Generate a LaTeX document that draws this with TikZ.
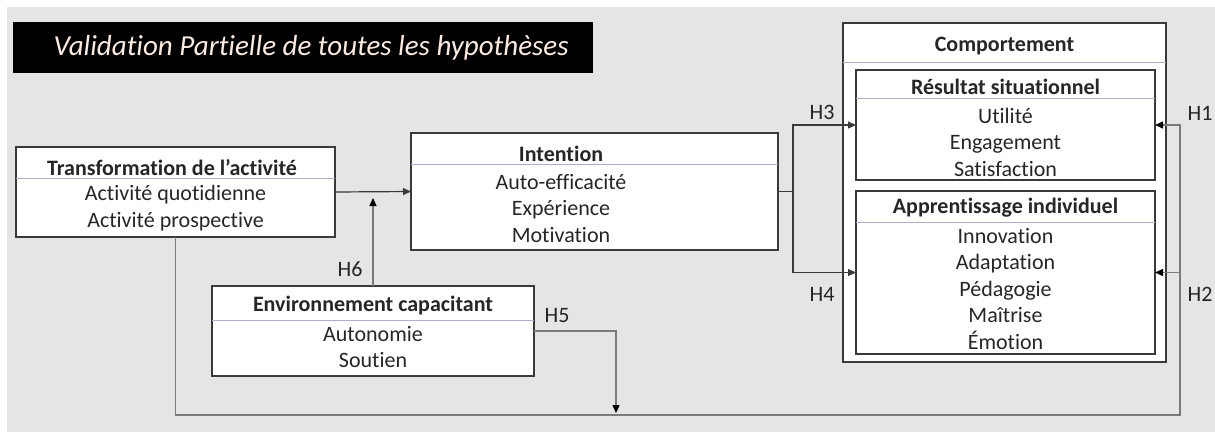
\documentclass[tikz,border=0pt]{standalone}
\usepackage{fontspec}
\setmainfont{Carlito}[Ligatures={TeX,NoCommon}]
\usepackage{tikz}
\usetikzlibrary{arrows.meta}

\definecolor{bggray}{HTML}{E6E4E5}
\definecolor{ink}{HTML}{262626}
\definecolor{edge}{HTML}{3A3A3A}
\definecolor{sepline}{HTML}{B8A9CC}
\definecolor{fbgray}{HTML}{7A7A7A}
\definecolor{cream}{HTML}{FBEBE0}

\begin{document}
\begin{tikzpicture}[x=1pt,y=-1pt,
  box/.style={draw=edge,line width=1.5pt,fill=white,anchor=north west,inner sep=0pt,outer sep=0pt},
  sep/.style={draw=sepline,line width=1pt},
  head/.style={text=ink,font=\bfseries\fontsize{22}{26}\selectfont,inner sep=0pt},
  items/.style={text=ink,font=\fontsize{22}{26.5}\selectfont,align=center,inner sep=0pt},
  hyp/.style={text=ink,font=\fontsize{22}{24}\selectfont,inner sep=0pt},
  link/.style={draw=edge,line width=1.2pt,-{Triangle[length=8pt,width=7pt]}},
  fback/.style={draw=fbgray,line width=1.4pt,-{Triangle[length=8pt,width=7pt,color=black,fill=black]}},
]

\useasboundingbox (0,0) rectangle (1215,432);

% Background
\fill[bggray] (7,7) rectangle (1215,432);

% Title bar
\node[fill=black,anchor=north west,minimum width=580pt,minimum height=51pt,inner sep=0pt] (bar) at (13,22) {};
\node[text=cream,font=\itshape\fontsize{29}{34}\selectfont,inner sep=0pt] (title) at ([xshift=8pt]bar.center) {Validation Partielle de toutes les hypothèses};

% Transformation de l'activite
\node[box,minimum width=319pt,minimum height=90pt] (trans) at (16,147) {};
\draw[sep] ([yshift=-31pt]trans.north west) -- ([yshift=-31pt]trans.north east);
\node[head] (transhead) at (172,168) {Transformation de l'activité};
\node[items] (transitems) at (175.5,208) {Activité quotidienne\\Activité prospective};

% Intention
\node[box,minimum width=367pt,minimum height=117pt] (inten) at (411,133) {};
\draw[sep] ([yshift=-31pt]inten.north west) -- ([yshift=-31pt]inten.north east);
\node[head] (intenhead) at (561,154) {Intention};
\node[items] (intenitems) at (561,208.5) {Auto-efficacité\\Expérience\\Motivation};

% Environnement capacitant
\node[box,minimum width=322pt,minimum height=90pt] (env) at (212,286) {};
\draw[sep] ([yshift=-34pt]env.north west) -- ([yshift=-34pt]env.north east);
\node[head] (envhead) at (373,306) {Environnement capacitant};
\node[items] (envitems) at (373,347) {Autonomie\\Soutien};

% Comportement
\node[box,minimum width=323pt,minimum height=339pt] (comp) at (843,23) {};
\draw[sep] ([yshift=-39pt]comp.north west) -- ([yshift=-39pt]comp.north east);
\node[head] (comphead) at (1004.5,46) {Comportement};

% Resultat situationnel
\node[box,minimum width=299pt,minimum height=110pt] (res) at (856,70) {};
\draw[sep] ([yshift=-28pt]res.north west) -- ([yshift=-28pt]res.north east);
\node[head] (reshead) at (1005.5,87) {Résultat situationnel};
\node[items] (resitems) at (1005.5,142) {Utilité\\Engagement\\Satisfaction};

% Apprentissage individuel
\node[box,minimum width=299pt,minimum height=163pt] (app) at (856,191) {};
\draw[sep] ([yshift=-31pt]app.north west) -- ([yshift=-31pt]app.north east);
\node[head] (apphead) at (1005.5,208) {Apprentissage individuel};
\node[items] (appitems) at (1005.5,289) {Innovation\\Adaptation\\Pédagogie\\Maîtrise\\Émotion};

% Links
\coordinate (split) at (793,191.5);
\coordinate (corner) at (1180,415);
\coordinate (h5end) at (616,413);

\draw[link] (trans.east) -- (inten.west);
\draw[draw=edge,line width=1.2pt] (inten.east) -- (split);
\draw[link] (split) |- (res.west);
\draw[link] (split) |- (app.west);

\draw[fback] (env.north) -- ([yshift=-6pt]env.north |- trans.east);
\draw[fback] (env.east) -| (h5end);
\draw[fback] (trans.south) |- (corner) |- (res.east);
\draw[fback] (corner |- app.east) -- (app.east);

% Hypotheses
\node[hyp] (h1) at (1200,113) {H1};
\node[hyp] (h2) at (1200,294) {H2};
\node[hyp] (h3) at (822,112) {H3};
\node[hyp] (h4) at (822,294) {H4};
\node[hyp] (h5) at (557,316) {H5};
\node[hyp] (h6) at (350,269) {H6};

\end{tikzpicture}
\end{document}
